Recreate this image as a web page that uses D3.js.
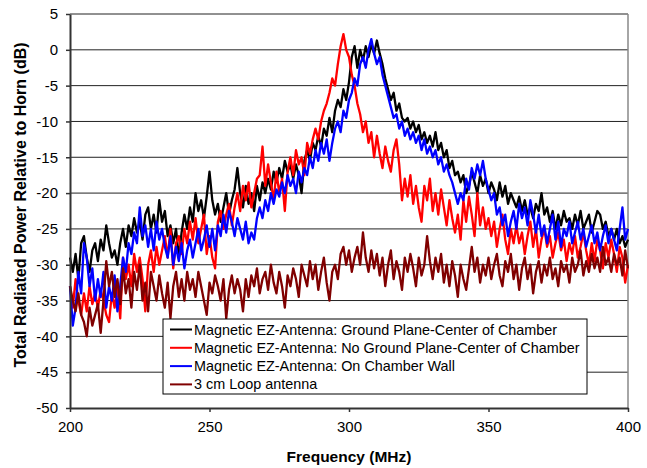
<!DOCTYPE html>
<html>
<head>
<meta charset="utf-8">
<script src="https://cdn.jsdelivr.net/npm/d3@7"></script>
<style>
  body { margin: 0; background: #fff; }
  svg { font-family: Arial, "Liberation Sans", sans-serif; }
</style>
</head>
<body>
<div class="chart"></div>
<script>
// frequency axis: one reading per MHz, 200..400
var freqStart = 200;
var freqStep = 1;

var groundPlaneCenter = [
  -29,-31,-28.5,-32,-27,-26,-29,-31,-28,-27,
  -29.5,-26.5,-28,-24.5,-27,-29,-28,-30,-27,-25,
  -27.5,-24.5,-26,-23.5,-25.5,-24,-26.5,-23,-22,-25,
  -23,-25.5,-21,-24,-22.5,-26,-24.5,-27,-25,-29,
  -25.5,-23,-25,-22,-24,-20,-22.5,-21,-23.5,-20.5,
  -17,-21,-23,-21.5,-24,-22,-20,-23,-21,-19.5,
  -16.5,-20,-22,-19,-21.5,-20,-22.5,-19,-21,-18.5,
  -20,-18,-19.5,-17,-18.5,-16.5,-18,-15.5,-17,-16,
  -18,-16,-17.5,-20,-15.5,-14,-15.5,-13,-14,-12,
  -13.5,-11,-12,-9.5,-11.5,-8.5,-7,-8,-5.5,-7,
  -4.5,-1,0.5,-2.5,0,-1.5,0.5,-1,0.8,-0.5,
  1.3,-0.5,-2,-4,-5.5,-7,-6,-8.5,-7.5,-9.5,
  -10,-9.5,-11,-10,-11.5,-10.5,-12.5,-11.5,-13,-12,
  -13.5,-11.5,-14,-13,-15,-14,-16.5,-15.5,-17.5,-17,
  -18.5,-17.5,-20,-19,-17,-18.5,-20,-17.5,-19,-18,
  -20,-18.5,-19.5,-21,-18.5,-20.5,-19,-21.5,-20,-21,
  -22,-20.5,-22.5,-21,-23,-22,-23.5,-21.5,-22.5,-20,
  -23,-22,-24,-22.5,-25,-23,-24.5,-22.5,-24,-23.5,
  -25,-23,-24.5,-22.5,-25,-24,-23,-25.5,-24,-22.5,
  -23,-25,-24,-26,-25,-26.5,-25,-27,-26,-27.5,
  -26.5
];

var noGroundPlaneCenter = [
  -33,-36,-32,-35,-37,-34,-36.5,-33,-35.5,-34,
  -36,-33.5,-35,-37,-38,-34,-36,-33,-37.5,-29,
  -32,-30,-33,-28.5,-31,-29,-32,-36.5,-30,-28,
  -31,-27.5,-30,-28,-26,-29,-25,-30.5,-27,-26,
  -28.5,-25,-27,-24,-26.5,-23.5,-27,-25,-23,-28.5,
  -26,-29,-30.5,-24,-22.5,-25,-23,-21.5,-24.5,-22,
  -20,-22.5,-19,-21,-18.5,-22,-20,-18,-17.5,-13.5,
  -19,-16,-18.5,-21,-17,-20,-18,-22.5,-17,-15,
  -17.5,-14,-16,-15,-17.5,-13,-14.5,-12.5,-11,-12.5,
  -10,-8.5,-7.5,-6,-4,-5,-2,0.5,2.2,0,
  -1,-3.5,-5,-7.5,-9,-11.5,-10,-13,-11.5,-15,
  -12,-14.5,-16.5,-13.5,-15.5,-17,-14,-12.5,-16,-21,
  -18,-20.5,-17.5,-21.5,-19,-22,-24,-19,-21,-18,
  -22.5,-20,-23,-19.5,-22,-24.5,-21,-23.5,-25.5,-23,
  -26.5,-21,-24,-20.5,-23,-26,-20,-24.5,-22,-25,
  -23.5,-26,-24,-27.5,-25,-23,-26.5,-28.5,-25,-27,
  -24.5,-27,-25.5,-28.5,-26,-24,-27.5,-25,-29,-26.5,
  -25,-27.5,-26,-29,-27,-25.5,-28,-26.5,-29.5,-27,
  -28.5,-26,-29,-27.5,-25.5,-28,-30,-27,-29.5,-26.5,
  -28,-30.5,-27,-29,-26.5,-28.5,-31,-27.5,-29,-32.5,
  -30
];

var onChamberWall = [
  -33,-38.5,-36,-31,-34,-27,-29,-33,-30.5,-35,
  -32,-34.5,-31,-36,-33,-35,-31.5,-36.5,-33,-29,
  -31,-27,-28.5,-25.5,-27,-22,-26,-24.5,-27.5,-25,
  -28,-24,-26.5,-25,-27.5,-29,-26,-30,-27.5,-29.5,
  -27,-30.5,-28,-26.5,-29,-27,-25,-28,-26.5,-24.5,
  -27.5,-25,-28,-24.5,-26,-23,-25.5,-22.5,-24,-26,
  -23.5,-25,-26.5,-24,-27,-25.5,-26.5,-23.5,-22,-23.5,
  -21,-22.5,-20,-21.5,-19.5,-20.5,-18.5,-20,-17.5,-19,
  -18,-20,-17,-18.5,-16.5,-17.5,-15,-16.5,-14,-15.5,
  -13,-14.5,-12.5,-15.5,-13,-11,-10,-11.5,-8.5,-9.5,
  -7,-6,-4,-5,-2,-1,-2.5,0,1.5,-0.5,
  -2,-1,-3.5,-5,-6.5,-8,-9.5,-9,-11,-10,
  -12,-11,-12.5,-11.5,-13,-12,-14,-12.5,-14.5,-13.5,
  -15,-14,-16,-15,-17,-16,-17.5,-18.5,-20,-21.5,
  -20,-21,-18,-19.5,-16.5,-18,-16,-17.5,-15.5,-18,
  -19.5,-21,-20,-23,-22,-24.5,-23,-26,-24,-22.5,
  -25,-21.5,-23.5,-22,-24.5,-21,-23,-25.5,-23,-26,
  -24.5,-27,-25,-23,-26.5,-24,-27.5,-25,-26,-24,
  -27,-25.5,-24,-26.5,-25,-27.5,-26,-24.5,-27,-25.5,
  -28,-26,-24.5,-27,-25,-26.5,-28,-25,-22,-26.5,
  -25
];

var loopAntenna = [
  -33,-35,-36.5,-34,-37,-38,-40,-36,-38.5,-37,
  -35.5,-39.5,-35,-29.5,-33,-31,-34.5,-32,-35.5,-30.5,
  -34,-32,-36,-31,-33.5,-30,-35,-32.5,-36.5,-31,
  -33,-35,-31.5,-34,-36,-32.5,-37.5,-33,-31,-34.5,
  -32,-35,-31,-33.5,-32,-34.5,-31,-33,-35,-37,
  -32.5,-34,-31.5,-33,-35,-32,-37.5,-33.5,-31.5,-34,
  -32,-33.5,-36.5,-32,-34.5,-31.5,-33,-30.5,-34,-32,
  -31,-33.5,-30,-32.5,-34,-31,-33,-36,-31.5,-33,
  -30.5,-32,-34.5,-30,-31.5,-33,-29.5,-32,-30,-33.5,
  -31,-29,-32.5,-35,-31,-30,-32,-28.5,-27.5,-30,
  -28,-31,-29,-27.5,-30,-25.5,-29,-31,-28,-30.5,
  -28.5,-31.5,-29,-33,-30,-28,-32,-29.5,-31,-33.5,
  -29,-31,-28.5,-30.5,-33,-29,-31.5,-30,-26,-29.5,
  -32,-29,-31,-28.5,-32.5,-30,-33,-29.5,-31.5,-34.5,
  -30,-32,-33.5,-30.5,-27.5,-31,-29,-32.5,-30,-31.5,
  -29,-32,-30,-28.5,-31.5,-33,-29.5,-31,-28.5,-32,
  -30,-33.5,-30.5,-29,-32,-30,-34,-31,-29.5,-32.5,
  -30,-31.5,-29,-32,-30.5,-33,-29.5,-31,-30,-32.5,
  -29,-31,-30,-28,-31.5,-29.5,-31,-28.5,-30.5,-29,
  -31,-27.5,-30,-29,-31,-28.5,-30,-29,-31.5,-28,
  -30.5
];

var seriesNames = [
  "Magnetic EZ-Antenna: Ground Plane-Center of Chamber",
  "Magnetic EZ-Antenna: No Ground Plane-Center of Chamber",
  "Magnetic EZ-Antenna: On Chamber Wall",
  "3 cm Loop antenna"
];
var seriesColors = ["#000000", "#ff0000", "#0000ff", "#800000"];
var xTicks = [200, 250, 300, 350, 400];
var yTicks = [-50, -45, -40, -35, -30, -25, -20, -15, -10, -5, 0, 5];

var svgWidth = 647;
var svgHeight = 468;
var margin = { top: 14, right: 19, bottom: 60, left: 70 };
var width = svgWidth - margin.left - margin.right;
var height = svgHeight - margin.top - margin.bottom;

var svg = d3.select(".chart")
  .append("svg")
  .attr("width", svgWidth)
  .attr("height", svgHeight);

var chartGroup = svg.append("g")
  .attr("transform", `translate(${margin.left}, ${margin.top})`);

var xScale = d3.scaleLinear().domain([200, 400]).range([0, width]);
var yScale = d3.scaleLinear().domain([-50, 5]).range([height, 0]);

// horizontal grid lines
chartGroup.selectAll(".grid")
  .data(yTicks.filter(d => d > -50))
  .enter()
  .append("line")
  .attr("x1", 0)
  .attr("x2", width)
  .attr("y1", d => yScale(d))
  .attr("y2", d => yScale(d))
  .attr("stroke", "#222")
  .attr("stroke-width", 1);

// right border
chartGroup.append("line")
  .attr("x1", width).attr("x2", width)
  .attr("y1", 0).attr("y2", height)
  .attr("stroke", "#888").attr("stroke-width", 1.5);

var allSeries = [groundPlaneCenter, noGroundPlaneCenter, onChamberWall, loopAntenna];

var line = d3.line()
  .x((d, i) => xScale(freqStart + i * freqStep))
  .y(d => yScale(d));

chartGroup.selectAll(".series")
  .data(allSeries)
  .enter()
  .append("path")
  .attr("d", d => line(d))
  .attr("fill", "none")
  .attr("stroke", (d, i) => seriesColors[i])
  .attr("stroke-width", 2.3)
  .attr("stroke-linejoin", "round");

// axes (plain hyphen minus like the original)
var bottomAxis = d3.axisBottom(xScale).tickValues(xTicks).tickSize(4).tickSizeOuter(0)
  .tickPadding(9).tickFormat(d => String(d));
var leftAxis = d3.axisLeft(yScale).tickValues(yTicks).tickSize(4).tickSizeOuter(0)
  .tickPadding(8).tickFormat(d => String(d));

var xg = chartGroup.append("g")
  .attr("transform", `translate(0, ${height})`)
  .call(bottomAxis);
var yg = chartGroup.append("g")
  .call(leftAxis);

[xg, yg].forEach(function(g) {
  g.select(".domain").attr("stroke", "#333").attr("stroke-width", 2);
  g.selectAll(".tick line").attr("stroke", "#333").attr("stroke-width", 1.5);
  g.selectAll(".tick text")
    .attr("fill", "#000")
    .style("font-size", "15px")
    .style("font-family", "Arial, 'Liberation Sans', sans-serif");
});

// legend
var legend = svg.append("g")
  .attr("transform", "translate(163, 319)");
legend.append("rect")
  .attr("width", 424)
  .attr("height", 75)
  .attr("fill", "#fff")
  .attr("stroke", "#000")
  .attr("stroke-width", 1);

var rows = legend.selectAll(".row")
  .data(seriesNames)
  .enter()
  .append("g")
  .attr("transform", (d, i) => `translate(0, ${10.5 + i * 18.3})`);
rows.append("line")
  .attr("x1", 7).attr("x2", 29)
  .attr("stroke", (d, i) => seriesColors[i])
  .attr("stroke-width", 2);
rows.append("text")
  .attr("x", 31)
  .attr("dy", "0.35em")
  .style("font-size", "14.4px")
  .text(d => d);

// axis titles
svg.append("text")
  .attr("x", margin.left + width / 2)
  .attr("y", 462)
  .attr("text-anchor", "middle")
  .style("font-size", "15.5px")
  .style("font-weight", "bold")
  .text("Frequency (MHz)");

svg.append("text")
  .attr("transform", `translate(26, ${margin.top + height / 2 - 6}) rotate(-90)`)
  .attr("text-anchor", "middle")
  .style("font-size", "16px")
  .style("font-weight", "bold")
  .text("Total Radiated Power Relative to Horn (dB)");
</script>
</body>
</html>
